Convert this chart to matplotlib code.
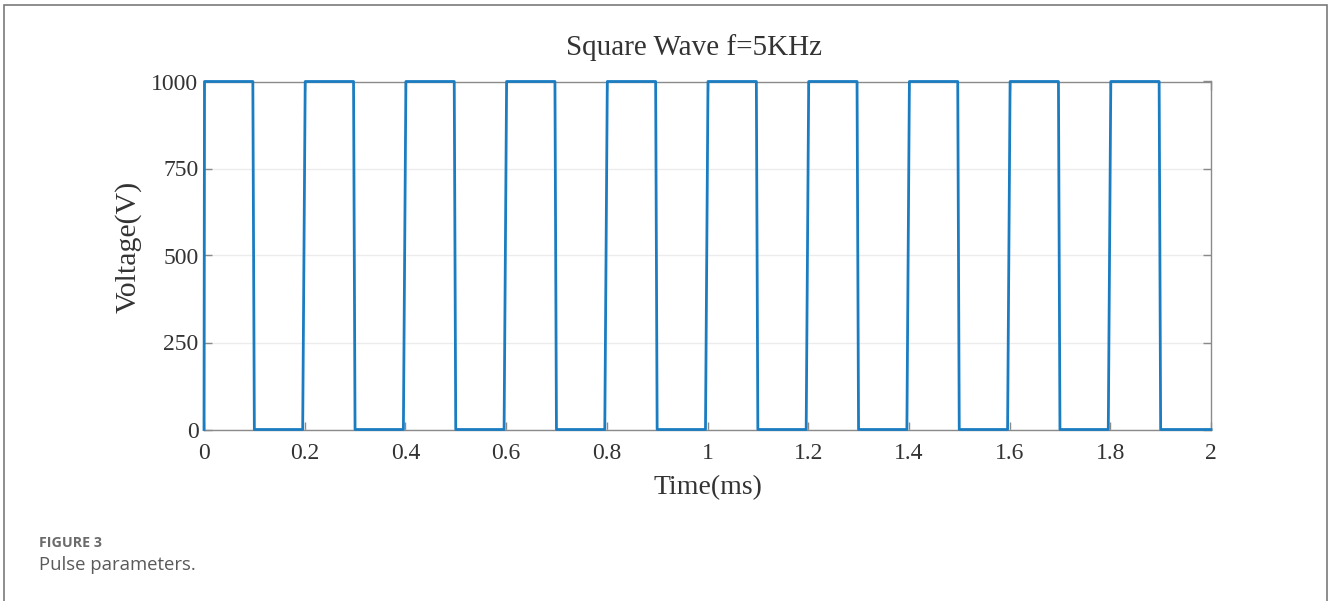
import matplotlib
matplotlib.use("Agg")
import matplotlib.pyplot as plt
from matplotlib.patches import Rectangle

# Data: square wave edges (ms) and levels (V)
rise_start = [0.000, 0.196, 0.396, 0.596, 0.796, 0.996, 1.196, 1.396, 1.596, 1.796]
rise_end   = [0.001, 0.201, 0.401, 0.601, 0.801, 1.001, 1.201, 1.401, 1.601, 1.801]
fall_start = [0.097, 0.297, 0.497, 0.697, 0.897, 1.097, 1.297, 1.497, 1.697, 1.897]
fall_end   = [0.100, 0.300, 0.500, 0.700, 0.900, 1.100, 1.300, 1.500, 1.700, 1.900]
v_low = 0
v_high = 1000
t_end = 2.0
x_ticks = [0, 0.2, 0.4, 0.6, 0.8, 1, 1.2, 1.4, 1.6, 1.8, 2]
x_ticklabels = ["0", "0.2", "0.4", "0.6", "0.8", "1", "1.2", "1.4", "1.6", "1.8", "2"]
y_ticks = [0, 250, 500, 750, 1000]

t = []
v = []
for i in range(len(rise_start)):
    t += [rise_start[i], rise_end[i], fall_start[i], fall_end[i]]
    v += [v_low, v_high, v_high, v_low]
t += [t_end]
v += [v_low]

serif = ["Liberation Serif", "DejaVu Serif"]

fig = plt.figure(figsize=(13.28, 6.01), dpi=100)
fig.patches.append(Rectangle((4/1328, -0.1), (1327-4)/1328, 1 - 5/601 + 0.1,
                             transform=fig.transFigure, fill=False,
                             edgecolor="#7a7a7a", linewidth=1.2))

ax = fig.add_axes([204/1328, 1 - 429.5/601, (1211-204)/1328, (429.5-81.5)/601])
ax.plot(t, v, color="#1a7dc2", linewidth=2.0, clip_on=False, zorder=3)
ax.set_xlim(0, 2)
ax.set_ylim(0, 1000)
ax.set_xticks(x_ticks)
ax.set_xticklabels(x_ticklabels)
ax.set_yticks(y_ticks)
ax.yaxis.grid(True, color="#ececec", linewidth=1.0)
ax.set_axisbelow(True)
for s in ax.spines.values():
    s.set_color("#8a8a8a")
    s.set_linewidth(1.0)
ax.tick_params(direction="in", length=6, width=1, color="#8a8a8a",
               top=True, right=True, labelsize=17, labelcolor="#333333")
ax.tick_params(axis="x", pad=10)
ax.tick_params(axis="y", pad=4)
for lab in ax.get_xticklabels() + ax.get_yticklabels():
    lab.set_family(serif)

ax.set_xlabel("Time(ms)", fontsize=20, family=serif, color="#333333", labelpad=8)
ax.set_ylabel("Voltage(V)", fontsize=21.5, family=serif, color="#333333",
              va="center", ha="center")
ax.yaxis.set_label_coords(-0.0755, 0.524)
fig.text(694/1328, 1 - 48/601, "Square Wave f=5KHz", ha="center", va="center",
         fontsize=21, family=serif, color="#333333")

fig.text(39/1328, 1 - 543/601, "FIGURE 3", ha="left", va="center",
         fontsize=10.3, family="Open Sans", fontweight="bold", color="#6b6b6b")
fig.text(39/1328, 1 - 565/601, "Pulse parameters.", ha="left", va="center",
         fontsize=13.3, family="Open Sans", color="#5a5a5a")

fig.savefig("out.png", dpi=100)
